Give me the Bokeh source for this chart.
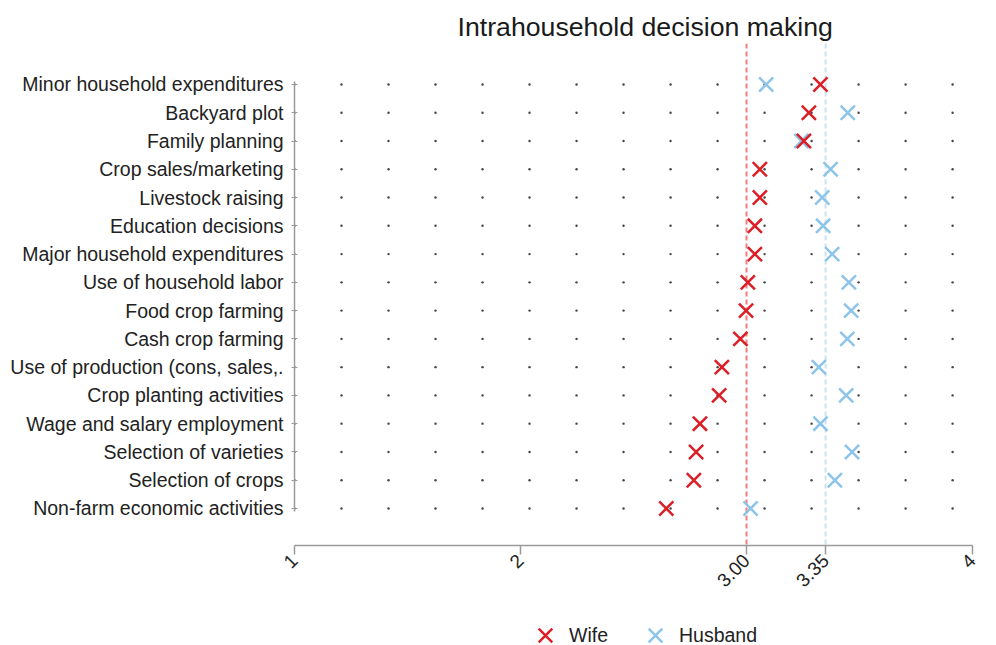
import math
import numpy as np
from bokeh.plotting import figure
from bokeh.layouts import column
from bokeh.models import (Range1d, FixedTicker, Span, Legend, LegendItem,
                          ColumnDataSource)
from bokeh.embed import file_html
from bokeh.resources import INLINE

# ---------------- data (top to bottom as in the chart) ----------------
categories = [
    "Minor household expenditures",
    "Backyard plot",
    "Family planning",
    "Crop sales/marketing",
    "Livestock raising",
    "Education decisions",
    "Major household expenditures",
    "Use of household labor",
    "Food crop farming",
    "Cash crop farming",
    "Use of production (cons, sales,.",
    "Crop planting activities",
    "Wage and salary employment",
    "Selection of varieties",
    "Selection of crops",
    "Non-farm economic activities",
]
wife = [3.327, 3.276, 3.254, 3.059, 3.059, 3.037, 3.037, 3.006,
        2.998, 2.973, 2.891, 2.879, 2.794, 2.777, 2.767, 2.645]
husband = [3.087, 3.448, 3.243, 3.372, 3.335, 3.339, 3.379, 3.453,
           3.463, 3.446, 3.320, 3.441, 3.327, 3.467, 3.391, 3.018]
x_ticks = [1, 2, 3, 3.35, 4]
x_tick_labels = ["1", "2", "3.00", "3.35", "4"]
wife_mean = 3.00
husband_mean = 3.35
series_names = ["Wife", "Husband"]

# ---------------- styling ----------------
FONT = "Liberation Sans"
RED = "#dc1e26"
BLUE = "#8cc4ea"
MSIZE = 20
MLW = 2.5

n = len(categories)
ypos = [n - 1 - i for i in range(n)]  # top row gets the highest index

p = figure(width=996, height=610, output_backend="svg", toolbar_location=None,
           x_range=Range1d(1, 4), y_range=Range1d(-1.31, 16.45),
           min_border_left=294, min_border_right=24,
           min_border_top=43, min_border_bottom=65)
p.outline_line_color = None
p.xgrid.visible = False
p.ygrid.visible = False
p.background_fill_color = "white"
p.border_fill_color = "white"

# title
p.title.text = "Intrahousehold decision making"
p.title.text_font = FONT
p.title.text_font_size = "26.7px"
p.title.text_font_style = "normal"
p.title.text_color = "#1a1a1a"
p.title.align = "left"
p.title.offset = 163
p.title.standoff = 4

# dotted row guides
dot_step = 0.208
dot_x = 1 + dot_step * np.arange(15)
gx, gy = np.meshgrid(dot_x, ypos)
p.scatter(gx.ravel(), gy.ravel(), marker="circle", size=2.4,
          fill_color="#444444", line_color=None)

# reference lines
p.add_layout(Span(location=wife_mean, dimension="height", line_color="#f77b7b",
                  line_width=2, line_dash="5 3", level="underlay"))
p.add_layout(Span(location=husband_mean, dimension="height", line_color="#c9e3f1",
                  line_width=2, line_dash="5 3", level="underlay"))

src = ColumnDataSource(dict(y=ypos, wife=wife, husband=husband))
p.scatter("husband", "y", source=src, marker="x", size=MSIZE,
          line_color=BLUE, line_width=MLW)
p.scatter("wife", "y", source=src, marker="x", size=MSIZE,
          line_color=RED, line_width=MLW)

# x axis
xa = p.xaxis[0]
xa.ticker = FixedTicker(ticks=x_ticks)
xa.major_label_overrides = {t: l for t, l in zip(x_ticks, x_tick_labels)}
xa.major_label_orientation = math.pi / 4
xa.major_label_text_font = FONT
xa.major_label_text_font_size = "19px"
xa.major_label_text_color = "#222222"
xa.axis_line_color = "#9a9a9a"
xa.axis_line_width = 1.5
xa.major_tick_line_color = "#9a9a9a"
xa.major_tick_line_width = 1.5
xa.major_tick_out = 9
xa.major_tick_in = 0
xa.minor_tick_line_color = None
xa.major_label_standoff = 3

# y axis
ya = p.yaxis[0]
ya.ticker = FixedTicker(ticks=ypos)
ya.major_label_overrides = {y: c for y, c in zip(ypos, categories)}
ya.major_label_text_font = FONT
ya.major_label_text_font_size = "19.5px"
ya.major_label_text_color = "#222222"
ya.axis_line_color = "#9a9a9a"
ya.axis_line_width = 1.5
ya.major_tick_line_color = "#9a9a9a"
ya.major_tick_out = 3
ya.major_tick_in = 3
ya.minor_tick_line_color = None
ya.major_label_standoff = 8
ya.bounds = (-0.1, n - 1 + 0.1)

# legend strip (separate small figure below the chart; its frame is aligned
# with the main frame by the column layout)
q = figure(width=996, height=35, output_backend="svg", toolbar_location=None,
           x_range=Range1d(0, 1), y_range=Range1d(0, 1),
           x_axis_type=None, y_axis_type=None,
           min_border_left=294, min_border_right=24,
           min_border_top=0, min_border_bottom=0)
q.outline_line_color = None
q.xgrid.visible = False
q.ygrid.visible = False
proxy = ColumnDataSource(dict(x=[0.5], y=[0.5]))
lw = q.scatter("x", "y", source=proxy, marker="x", size=MSIZE,
               line_color=RED, line_width=MLW, visible=False)
lh = q.scatter("x", "y", source=proxy, marker="x", size=MSIZE,
               line_color=BLUE, line_width=MLW, visible=False)
legend = Legend(items=[LegendItem(label=series_names[0], renderers=[lw]),
                       LegendItem(label=series_names[1], renderers=[lh])],
                orientation="horizontal", location=(227, -14),
                label_text_font=FONT, label_text_font_size="19.5px",
                label_text_color="#222222",
                glyph_width=48, glyph_height=48, label_standoff=0,
                spacing=23, padding=0, margin=0,
                border_line_color=None, background_fill_alpha=0)
q.add_layout(legend, "center")

layout = column(p, q, spacing=0)
open("out.html", "w").write(file_html(layout, INLINE))
